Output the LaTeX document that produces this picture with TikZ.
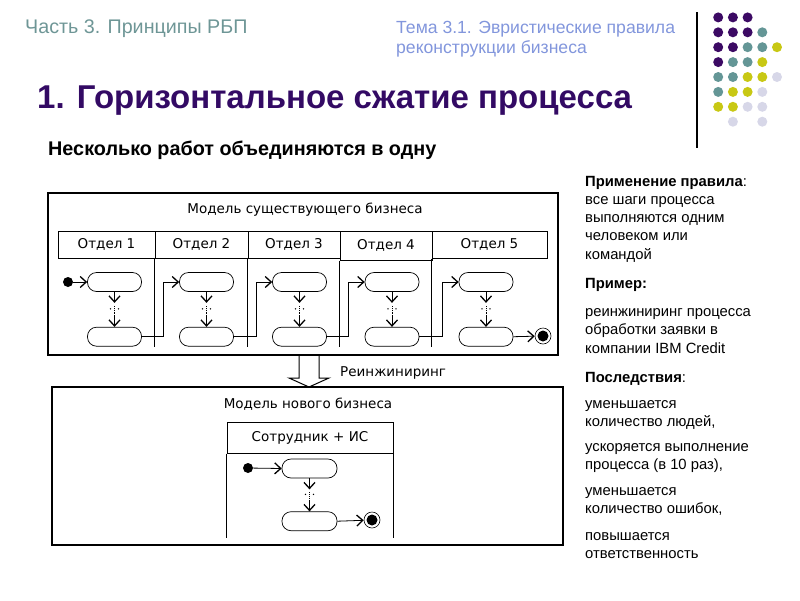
\documentclass[tikz,border=0pt]{standalone}
\usepackage{fontspec}
\setmainfont{Liberation Sans}
\newfontfamily\diafont{DejaVu Sans}
\usetikzlibrary{arrows.meta}
\usetikzlibrary{positioning}
\definecolor{partgray}{RGB}{110,150,150}
\definecolor{themeblue}{RGB}{130,150,220}
\definecolor{titlepurple}{RGB}{51,10,100}
\definecolor{dp}{RGB}{60,10,100}
\definecolor{dt}{RGB}{100,150,150}
\definecolor{dy}{RGB}{200,200,20}
\definecolor{dl}{RGB}{215,215,232}

\begin{document}
\begin{tikzpicture} [x=1pt, y=-1pt,
          frame/.style = {draw, line width=1.3pt},
          lane/.style = {draw, line width=1pt, inner sep=0pt, text height=10pt, text depth=2.5pt,
                         font=\diafont\fontsize{13.5}{14}\selectfont},
          diatext/.style = {anchor=base, inner sep=0pt, font=\diafont\fontsize{13.5}{14}\selectfont},
          act/.style = {draw, line width=0.7pt, rounded corners=9pt, minimum width=54pt,
                        minimum height=19pt, inner sep=0pt},
          flow/.style = {-{Straight Barb[length=6pt, width=11pt, line width=1.3pt]}, line width=0.8pt},
          start/.style = {circle, fill, inner sep=0pt, minimum size=10pt},
          finish/.style = {circle, draw, line width=0.6pt, inner sep=0pt, minimum size=16pt,
                           path picture={\fill (path picture bounding box.center) circle (5.5pt);}},
          note/.style = {anchor=west, inner sep=0pt, text height=10pt, text depth=3pt,
                         font=\fontsize{14.8}{17}\selectfont}
          ]
  \useasboundingbox (0,0) rectangle (800,600);

  % header
  \node[anchor=base west, inner sep=0pt, text=partgray, font=\fontsize{19.7}{21}\selectfont]
    (part) at (25,33) {Часть 3. Принципы РБП};
  \node[anchor=base west, inner sep=0pt, text=themeblue, font=\fontsize{17.6}{20}\selectfont]
    (theme1) at (396,33) {Тема 3.1. Эвристические правила};
  \node[anchor=base west, inner sep=0pt, text=themeblue, font=\fontsize{17.6}{20}\selectfont]
    (theme2) at (396,53) {реконструкции бизнеса};
  \draw[line width=1.2pt] (697,12) -- (697,148);
  \foreach \row [count=\r] in {{dp,dp,dp},{dp,dp,dp,dt},{dp,dp,dt,dt,dy},{dp,dt,dt,dy},
                                {dt,dt,dy,dy,dl},{dt,dy,dy,dl},{dy,dy,dl,dl},{none,dl,none,dl}}
    \foreach \clr [count=\c] in \row
      \path[fill=\clr] ({703.5+14.7*\c},{2.5+14.9*\r}) circle (5pt);

  \node[anchor=base west, inner sep=0pt, text=titlepurple, font=\bfseries\fontsize{33}{36}\selectfont]
    (title) at (37,108) {1. Горизонтальное сжатие процесса};
  \node[anchor=base west, inner sep=0pt, font=\bfseries\fontsize{19.8}{22}\selectfont]
    (subtitle) at (48,155) {Несколько работ объединяются в одну};

  % existing business
  \draw[frame] (48,193) rectangle (558,355);
  \node[diatext] (oldtitle) at (305,213) {Модель существующего бизнеса};
  \foreach \i/\x/\w in {1/106.5/97, 2/201.5/93, 3/294/92, 5/489.5/115}
    \node[lane, minimum width=\w pt, minimum height=27pt] (d\i) at (\x,244.5) {Отдел \i};
  \node[lane, minimum width=92pt, minimum height=29pt] (d4) at (386,245.5) {Отдел 4};
  \foreach \i in {2,...,5}
    \draw[line width=0.8pt] (d\i.south west) -- (d\i.south west |- 0,347);

  \foreach \i/\x in {1/114.5, 2/206.5, 3/299.5, 4/392, 5/486} {
    \node[act] (t\i) at (\x,282) {};
    \node[act, below=35pt of t\i] (b\i) {};
    \draw[flow] (t\i.south) -- ++(0,11) coordinate (m\i);
    \draw[densely dotted, line width=0.9pt] (m\i) ++(0,3) -- ++(0,9) coordinate (n\i);
    \fill (m\i) ++(-4,6) circle (0.8pt) ++(8,0) circle (0.8pt);
    \draw[flow] (n\i) -- (b\i.north);
  }
  \foreach \i [count=\j from 2] in {1,...,4}
    \draw[flow] (b\i.east) -| ([xshift=-16pt]t\j.west) -- (t\j.west);
  \node[start] (s1) at (68,282) {};
  \draw[flow] (s1) -- (t1.west);
  \node[finish] (f1) at (543,336) {};
  \draw[flow] (b5.east) -- (f1);

  % reengineering arrow
  \draw[line width=1pt] (299,355) -- (299,378) -- (289,378) -- (309,387)
    -- (329,378) -- (319,378) -- (319,355);
  \node[diatext, anchor=base west] (reeng) at (340,376) {Реинжиниринг};

  % new business
  \draw[frame] (52,387) rectangle (563,545);
  \node[diatext] (newtitle) at (308,408) {Модель нового бизнеса};
  \node[lane, minimum width=166pt, minimum height=31pt] (emp) at (310,437.5) {Сотрудник + ИС};
  \draw[line width=0.8pt] (emp.south west) -- ++(0,84);
  \draw[line width=0.8pt] (emp.south east) -- ++(0,84);
  \node[act, minimum width=55pt] (t6) at (309.5,468.5) {};
  \node[act, minimum width=55pt, below=33pt of t6] (b6) {};
  \draw[flow] (t6.south) -- ++(0,11) coordinate (m6);
  \draw[densely dotted, line width=0.9pt] (m6) ++(0,3) -- ++(0,8) coordinate (n6);
  \fill (m6) ++(-4,5) circle (0.8pt) ++(8,0) circle (0.8pt);
  \draw[flow] (n6) -- (b6.north);
  \node[start] (s2) at (248,468) {};
  \draw[flow] (s2) -- (t6.west);
  \node[finish] (f2) at (372,520) {};
  \draw[flow] (b6.east) -- (f2);

  % notes
  \foreach \y/\t in {183/{\textbf{Применение правила}:}, 201/{все шаги процесса},
                     219/{выполняются одним}, 237/{человеком или}, 256/{командой},
                     285/{\textbf{Пример:}}, 313/{реинжиниринг процесса},
                     331/{обработки заявки в}, 350/{компании IBM Credit},
                     379/{\textbf{Последствия}:}, 405/{уменьшается}, 423/{количество людей,},
                     448/{ускоряется выполнение}, 466/{процесса (в 10 раз),},
                     492/{уменьшается}, 510/{количество ошибок,},
                     537/{повышается}, 555/{ответственность}}
    \node[note] (n\y) at (585,\y) {\t};
\end{tikzpicture}
\end{document}
